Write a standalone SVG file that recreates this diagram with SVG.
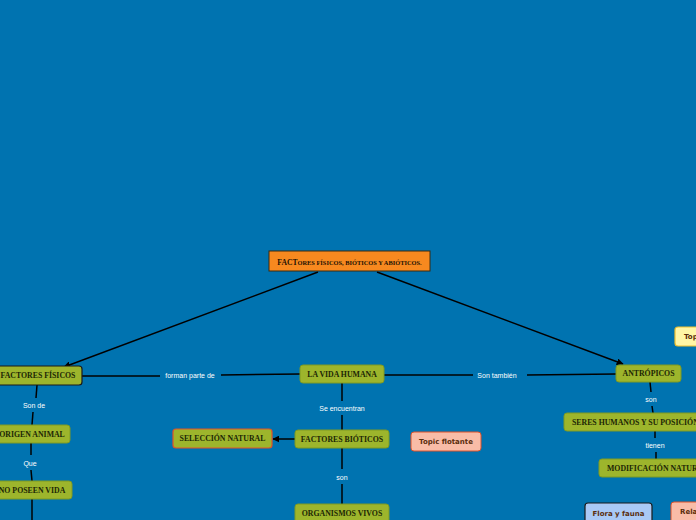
<svg xmlns="http://www.w3.org/2000/svg" width="696" height="520" viewBox="0 0 696 520">
<defs>
<marker id="arr" viewBox="0 0 10 10" refX="9" refY="5" markerWidth="7" markerHeight="7" orient="auto" markerUnits="userSpaceOnUse">
<path d="M0,0 L10,5 L0,10 z" fill="#000"/>
</marker>
</defs>
<style>
.bg{fill:#0073b0}
.main{fill:#f7891f;stroke:#3a2a10;stroke-width:1}
.g{fill:#9db52c;stroke:#7f9a22;stroke-width:1}
.gd{fill:#9db52c;stroke:#1a1a1a;stroke-width:1.2}
.gr{fill:#9db52c;stroke:#e0522a;stroke-width:1.2}
.sal{fill:#f9bca7;stroke:#e0522a;stroke-width:1}
.yel{fill:#fff6a6;stroke:#f0c030;stroke-width:1.2}
.blu{fill:#a9c9f6;stroke:#1a1a1a;stroke-width:1.2}
.t{font-family:"Liberation Serif",serif;font-weight:bold;font-size:7.8px;fill:#1c2605;text-anchor:middle;dominant-baseline:central}
.ts{font-family:"Liberation Serif",serif;font-weight:bold;font-size:7.8px;fill:#1c2605;text-anchor:start;dominant-baseline:central}
.tt{font-family:"Liberation Serif",serif;font-weight:bold;fill:#1c1205;text-anchor:middle;dominant-baseline:central}
.f{font-family:"DejaVu Sans",sans-serif;font-weight:bold;font-size:7px;fill:#5a2d0c;text-anchor:middle;dominant-baseline:central}
.fs{font-family:"DejaVu Sans",sans-serif;font-weight:bold;font-size:7px;fill:#5a2d0c;text-anchor:start;dominant-baseline:central}
.l{font-family:"Liberation Sans",sans-serif;font-size:7px;fill:#ffffff;text-anchor:middle;dominant-baseline:central}
.c{stroke:#000;stroke-width:1.5;fill:none}
</style>
<rect class="bg" x="0" y="0" width="696" height="520"/>
<g id="connectors">
<line class="c" x1="318" y1="272" x2="64" y2="367" marker-end="url(#arr)"/>
<line class="c" x1="377" y1="272" x2="623" y2="364" marker-end="url(#arr)"/>
<line class="c" x1="82" y1="376" x2="160" y2="376"/>
<line class="c" x1="221" y1="375" x2="300" y2="374"/>
<line class="c" x1="384" y1="375" x2="473" y2="375"/>
<line class="c" x1="527" y1="375" x2="616" y2="374"/>
<line class="c" x1="342" y1="383" x2="342" y2="401"/>
<line class="c" x1="342" y1="415" x2="342" y2="430"/>
<line class="c" x1="295" y1="439" x2="273" y2="439" marker-end="url(#arr)"/>
<line class="c" x1="342" y1="448" x2="342" y2="469"/>
<line class="c" x1="342" y1="484" x2="342" y2="504"/>
<line class="c" x1="37" y1="385" x2="36" y2="398"/>
<line class="c" x1="33" y1="412" x2="32" y2="425"/>
<line class="c" x1="31" y1="443" x2="31" y2="455"/>
<line class="c" x1="31" y1="470" x2="32" y2="481"/>
<line class="c" x1="32" y1="499" x2="32" y2="520"/>
<line class="c" x1="650" y1="382" x2="651" y2="392"/>
<line class="c" x1="652" y1="406" x2="653" y2="413"/>
<line class="c" x1="655" y1="431" x2="655" y2="438"/>
<line class="c" x1="656" y1="452" x2="656" y2="459"/>
<text class="l" x="190" y="375">forman parte de</text>
<text class="l" x="497" y="375">Son también</text>
<text class="l" x="342" y="408">Se encuentran</text>
<text class="l" x="342" y="477">son</text>
<text class="l" x="34" y="405">Son de</text>
<text class="l" x="30" y="463">Que</text>
<text class="l" x="651" y="399">son</text>
<text class="l" x="655" y="445">tienen</text>
</g>
<g id="main">
<rect class="main" x="269" y="251" width="161" height="20"/>
<text class="tt" x="349.5" y="262"><tspan font-size="7.6px">FACT</tspan><tspan font-size="6.4px">ORES FÍSICOS, BIÓTICOS Y ABIÓTICOS.</tspan></text>
</g>
<g id="factores-fisicos">
<rect class="gd" x="-6" y="366" width="88" height="19" rx="3"/>
<text class="t" x="38" y="375.5">FACTORES FÍSICOS</text>
</g>
<g id="vida-humana">
<rect class="g" x="300" y="365" width="84" height="18" rx="3"/>
<text class="t" x="342" y="374">LA VIDA HUMANA</text>
</g>
<g id="antropicos">
<rect class="g" x="616" y="365" width="65" height="17" rx="3"/>
<text class="t" x="648.5" y="373.5">ANTRÓPICOS</text>
</g>
<g id="origen-animal">
<rect class="g" x="-6" y="425" width="76" height="18" rx="3"/>
<text class="t" x="32" y="434">ORIGEN ANIMAL</text>
</g>
<g id="no-poseen-vida">
<rect class="g" x="-6" y="481" width="78" height="18" rx="3"/>
<text class="t" x="32" y="490">NO POSEEN VIDA</text>
</g>
<g id="seleccion-natural">
<rect class="gr" x="173" y="429" width="99" height="19" rx="3"/>
<text class="t" x="222.5" y="438.5">SELECCIÓN NATURAL</text>
</g>
<g id="factores-bioticos">
<rect class="g" x="295" y="430" width="94" height="18" rx="3"/>
<text class="t" x="342" y="439">FACTORES BIÓTICOS</text>
</g>
<g id="topic-flotante">
<rect class="sal" x="411" y="432" width="70" height="19" rx="3"/>
<text class="f" x="446" y="441.5">Topic flotante</text>
</g>
<g id="organismos-vivos">
<rect class="g" x="295" y="504" width="94" height="20" rx="3"/>
<text class="t" x="342" y="513">ORGANISMOS VIVOS</text>
</g>
<g id="seres-humanos">
<rect class="g" x="564" y="413" width="140" height="18" rx="3"/>
<text class="ts" x="572" y="422">SERES HUMANOS Y SU POSICIÓN</text>
</g>
<g id="modificacion-natural">
<rect class="g" x="599" y="459" width="105" height="18" rx="3"/>
<text class="ts" x="607" y="468">MODIFICACIÓN NATURAL</text>
</g>
<g id="topic-yellow">
<rect class="yel" x="675" y="327" width="30" height="19" rx="3"/>
<text class="fs" x="684" y="336.5">Topic</text>
</g>
<g id="flora-fauna">
<rect class="blu" x="585" y="503" width="67" height="22" rx="3"/>
<text class="f" x="618.5" y="514">Flora y fauna</text>
</g>
<g id="relacion">
<rect class="sal" x="671" y="502" width="35" height="22" rx="3"/>
<text class="fs" x="680" y="512">Relación</text>
</g>
</svg>
